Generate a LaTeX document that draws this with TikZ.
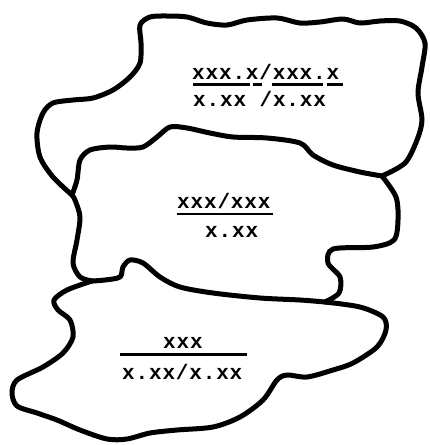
\documentclass[tikz,border=0pt]{standalone}
\usepackage{fontspec}
\newfontfamily\typewriter[LetterSpace=4]{Liberation Mono}
\begin{document}
\begin{tikzpicture}[x=1pt, y=-1pt,
    border/.style={line width=5pt, line join=round, line cap=round, draw=black},
    reading/.style={inner sep=0pt, anchor=base west, font=\typewriter\bfseries\fontsize{21}{21}\selectfont},
    bar/.style={line width=2.2pt, draw=black}
]
\useasboundingbox (0,0) rectangle (429,445);

% Junctions
\coordinate (jleft) at (72,195);
\coordinate (jright) at (382,176);
\coordinate (jlow) at (325,302);
\coordinate (jwest) at (92,281);

% Borders
\draw[border] plot[smooth] coordinates {(jleft) (53,177) (40,157) (37,133) (43,113) (53,103) (73,100) (93,98) (113,90) (130,77) (140,63) (141,43) (140,25) (150,17) (167,16) (187,17) (207,23) (227,25) (247,20) (277,18) (300,23) (320,22) (343,19) (360,23) (380,21) (400,21) (416,28) (425,43) (422,67) (418,93) (422,120) (417,140) (405,163) (jright)};
\draw[border] plot[smooth] coordinates {(jright) (360,172) (333,165) (313,155) (300,143) (267,138) (233,137) (210,133) (187,128) (170,127) (157,137) (143,147) (127,148) (110,147) (90,150) (80,160) (77,180) (jleft)};
\draw[border] plot[smooth] coordinates {(jright) (396,197) (398,220) (394,240) (373,247) (333,249) (328,263) (340,277) (339,293) (jlow)};
\draw[border] plot[smooth] coordinates {(jlow) (300,300) (260,298) (213,293) (180,287) (160,277) (143,263) (130,260) (123,267) (120,277) (105,280) (jwest)};
\draw[border] plot[smooth] coordinates {(jwest) (80,277) (73,263) (77,240) (80,217) (75,200) (jleft)};
\draw[border] plot[smooth] coordinates {(jwest) (67,290) (54,300) (58,310) (70,320) (73,337) (63,353) (43,367) (17,380) (12,393) (17,406) (37,413) (57,420) (80,430) (107,439) (127,439) (150,433) (177,430) (213,427) (240,417) (263,400) (277,380) (287,375) (307,377) (333,370) (353,363) (377,347) (386,330) (383,317) (360,307) (jlow)};

% Nodes
\node[reading] (topnum) at (192,79) {xxx.x/xxx.x};
\node[reading] (topden) at (193,106) {x.xx /x.xx};
\node[reading] (midnum) at (177,208) {xxx/xxx};
\node[reading] (midden) at (205,237) {x.xx};
\node[reading] (lownum) at (163,348) {xxx};
\node[reading] (lowden) at (122,379) {x.xx/x.xx};

% Bars
\draw[bar] (193,84.5) -- (250,84.5);
\draw[bar] (253,84.5) -- (262,84.5);
\draw[bar] (272,84.5) -- (323,84.5);
\draw[bar] (327,84.5) -- (343,84.5);
\draw[bar] (177,214) -- (273,214);
\draw[bar] (120,354.5) -- (247,354.5);

\end{tikzpicture}
\end{document}
